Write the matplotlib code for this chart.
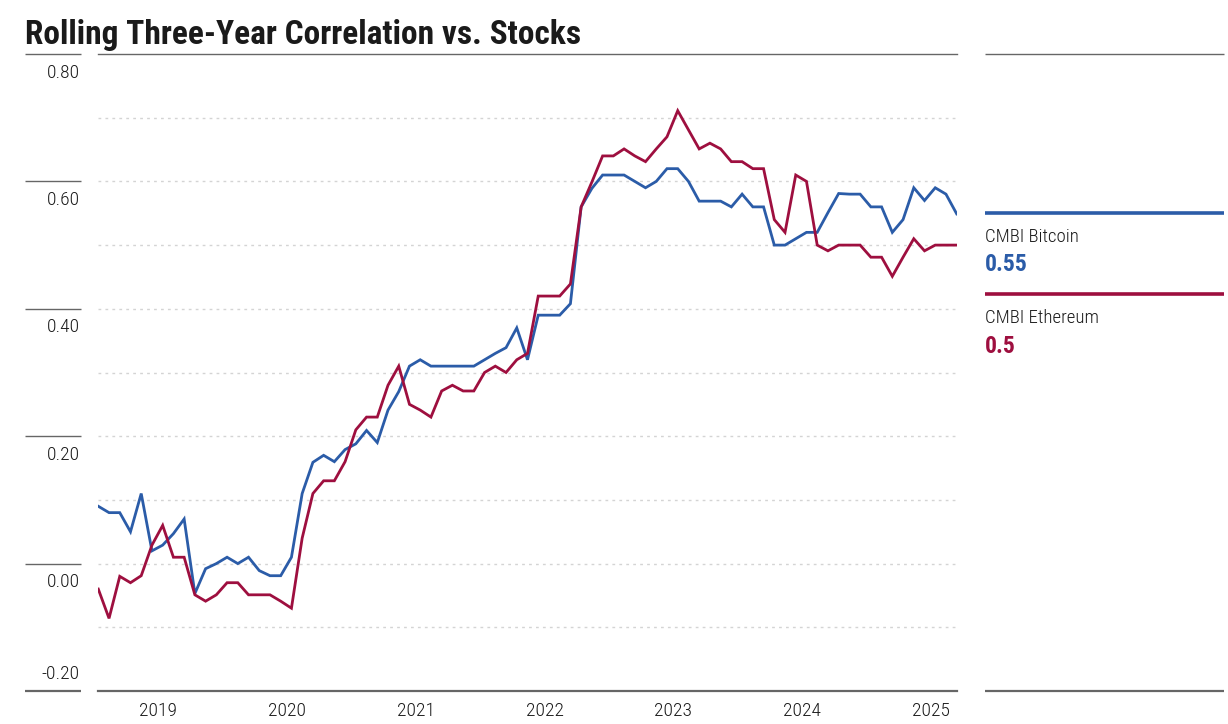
import numpy as np
import matplotlib
matplotlib.use('Agg')
import matplotlib.pyplot as plt
from matplotlib import font_manager as fm
from matplotlib.transforms import blended_transform_factory

# monthly rolling three-year correlation
bitcoin = [0.090, 0.080, 0.080, 0.050, 0.110, 0.020, 0.029, 0.047, 0.070, -0.047,
           -0.008, 0.000, 0.010, 0.000, 0.010, -0.011, -0.019, -0.019, 0.010, 0.110,
           0.159, 0.170, 0.160, 0.179, 0.188, 0.209, 0.190, 0.241, 0.270, 0.310,
           0.320, 0.310, 0.310, 0.310, 0.310, 0.310, 0.320, 0.330, 0.339, 0.370,
           0.320, 0.390, 0.390, 0.390, 0.408, 0.560, 0.589, 0.610, 0.610, 0.610,
           0.600, 0.590, 0.600, 0.620, 0.620, 0.600, 0.569, 0.569, 0.569, 0.560,
           0.580, 0.560, 0.560, 0.500, 0.500, 0.510, 0.520, 0.520, 0.551, 0.581,
           0.580, 0.580, 0.560, 0.560, 0.520, 0.540, 0.590, 0.570, 0.590, 0.580,
           0.549]
ethereum = [-0.040, -0.086, -0.020, -0.030, -0.019, 0.029, 0.060, 0.010, 0.010, -0.049,
            -0.059, -0.049, -0.030, -0.030, -0.049, -0.049, -0.049, -0.059, -0.070, 0.040,
            0.110, 0.130, 0.130, 0.160, 0.210, 0.230, 0.230, 0.280, 0.310, 0.250,
            0.241, 0.230, 0.271, 0.280, 0.271, 0.271, 0.300, 0.310, 0.300, 0.320,
            0.330, 0.420, 0.420, 0.420, 0.439, 0.560, 0.599, 0.640, 0.640, 0.651,
            0.640, 0.631, 0.651, 0.670, 0.711, 0.681, 0.651, 0.660, 0.651, 0.631,
            0.631, 0.620, 0.620, 0.540, 0.520, 0.610, 0.600, 0.500, 0.491, 0.500,
            0.500, 0.500, 0.481, 0.481, 0.451, 0.481, 0.510, 0.491, 0.500, 0.500,
            0.500]
years = ['2019', '2020', '2021', '2022', '2023', '2024', '2025']
y_labels = ['0.80', '0.60', '0.40', '0.20', '0.00', '-0.20']
y_label_vals = [0.8, 0.6, 0.4, 0.2, 0.0, -0.2]
series_names = ['CMBI Bitcoin', 'CMBI Ethereum']
series_last = ['0.55', '0.5']

BLUE = '#2b5ca8'
RED = '#9e0f3f'
GRAY = '#666666'
TXT = '#1a1a1a'

# pick a condensed face if one is around
names = {f.name for f in fm.fontManager.ttflist}
stretch = 'normal'
font = 'DejaVu Sans'
for cand in ['Roboto Condensed', 'Liberation Sans Narrow', 'Open Sans Condensed', 'DejaVu Sans Condensed']:
    if cand in names:
        font = cand
        break
else:
    stretch = 'condensed'
plt.rcParams['font.family'] = [font, 'DejaVu Sans']
plt.rcParams['font.stretch'] = stretch

W, H = 1228, 724
fig = plt.figure(figsize=(W / 100, H / 100), dpi=100)
x0, x1, ytop, ybot = 98.3, 956.7, 54, 691
ax = fig.add_axes([x0 / W, 1 - ybot / H, (x1 - x0) / W, (ybot - ytop) / H])

x = np.arange(len(bitcoin))
ax.plot(x, bitcoin, color=BLUE, lw=2.0, solid_joinstyle='miter', zorder=3)
ax.plot(x, ethereum, color=RED, lw=2.0, solid_joinstyle='miter', zorder=3)

ax.set_xlim(0, len(bitcoin) - 1)
ax.set_ylim(-0.2, 0.8)
ax.set_yticks(np.arange(-0.1, 0.75, 0.1))
ax.grid(axis='y', color='#d4d4d4', linestyle=(0, (2, 3)), lw=1.0)
ax.tick_params(axis='y', length=0, labelleft=False)
ax.set_xticks(np.arange(len(years)) * 12 + 5.6)
ax.set_xticklabels(years, fontsize=14, color=TXT, fontweight='light')
ax.tick_params(axis='x', length=0, pad=8)
for s in ['left', 'right']:
    ax.spines[s].set_visible(False)
ax.spines['top'].set_color(GRAY)
ax.spines['top'].set_linewidth(1.0)
ax.spines['bottom'].set_color(GRAY)
ax.spines['bottom'].set_linewidth(1.6)

# y labels sit in a column left of the plot, each under a short rule
tr = blended_transform_factory(fig.transFigure, ax.transData)
for lab, v in zip(y_labels, y_label_vals):
    ax.plot([25 / W, 81 / W], [v, v], transform=tr, color=GRAY,
            lw=1.6 if v == -0.2 else 1.0, clip_on=False, solid_capstyle='butt')
    if v == -0.2:
        ax.text(80 / W, v + 0.012, lab, transform=tr, ha='right', va='bottom',
                fontsize=14, color=TXT, fontweight='light')
    else:
        ax.text(80 / W, v - 0.015, lab, transform=tr, ha='right', va='top',
                fontsize=14, color=TXT, fontweight='light')

fig.text(25 / W, 1 - 35 / H, 'Rolling Three-Year Correlation vs. Stocks',
         fontsize=24, fontweight='bold', color=TXT, va='center', ha='left')

# legend column on the right
for yy, lw in [(ytop, 1.0), (ybot, 1.6)]:
    fig.add_artist(plt.Line2D([985 / W, 1224 / W], [1 - yy / H] * 2, color=GRAY,
                              lw=lw, solid_capstyle='butt'))
leg_y = [212.7, 294]
for name, last, col, yy in zip(series_names, series_last, [BLUE, RED], leg_y):
    fig.add_artist(plt.Line2D([985 / W, 1224 / W], [1 - yy / H] * 2, color=col,
                              lw=2.6, solid_capstyle='butt'))
    fig.text(985 / W, 1 - (yy + 24) / H, name, fontsize=13.5, color=TXT,
             va='center', ha='left', fontweight='light')
    fig.text(985 / W, 1 - (yy + 52) / H, last, fontsize=17, fontweight='bold',
             color=col, va='center', ha='left')

fig.savefig('out.png', dpi=100)
